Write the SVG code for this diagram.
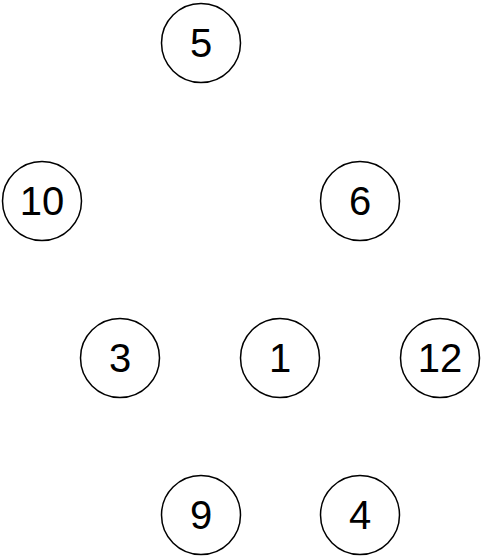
<svg xmlns="http://www.w3.org/2000/svg" width="483" height="556" viewBox="0 0 483 556">
<style>
circle{fill:#fff;stroke:#000;stroke-width:1.5}
text{font-family:"Liberation Sans",Arial,sans-serif;font-size:40px;text-anchor:middle;dominant-baseline:central;fill:#000}
</style>
<rect width="483" height="556" fill="#fff"/>
<g id="edges"></g>
<g id="n5"><circle cx="201" cy="43" r="39.5"/><text x="201" y="43">5</text></g>
<g id="n10"><circle cx="42" cy="201" r="39.5"/><text x="42" y="201">10</text></g>
<g id="n6"><circle cx="360" cy="201" r="39.5"/><text x="360" y="201">6</text></g>
<g id="n3"><circle cx="120" cy="358" r="39.5"/><text x="120" y="358">3</text></g>
<g id="n1"><circle cx="280" cy="358" r="39.5"/><text x="280" y="358">1</text></g>
<g id="n12"><circle cx="440" cy="358" r="39.5"/><text x="440" y="358">12</text></g>
<g id="n9"><circle cx="201" cy="515" r="39.5"/><text x="201" y="515">9</text></g>
<g id="n4"><circle cx="360" cy="515" r="39.5"/><text x="360" y="515">4</text></g>
</svg>
